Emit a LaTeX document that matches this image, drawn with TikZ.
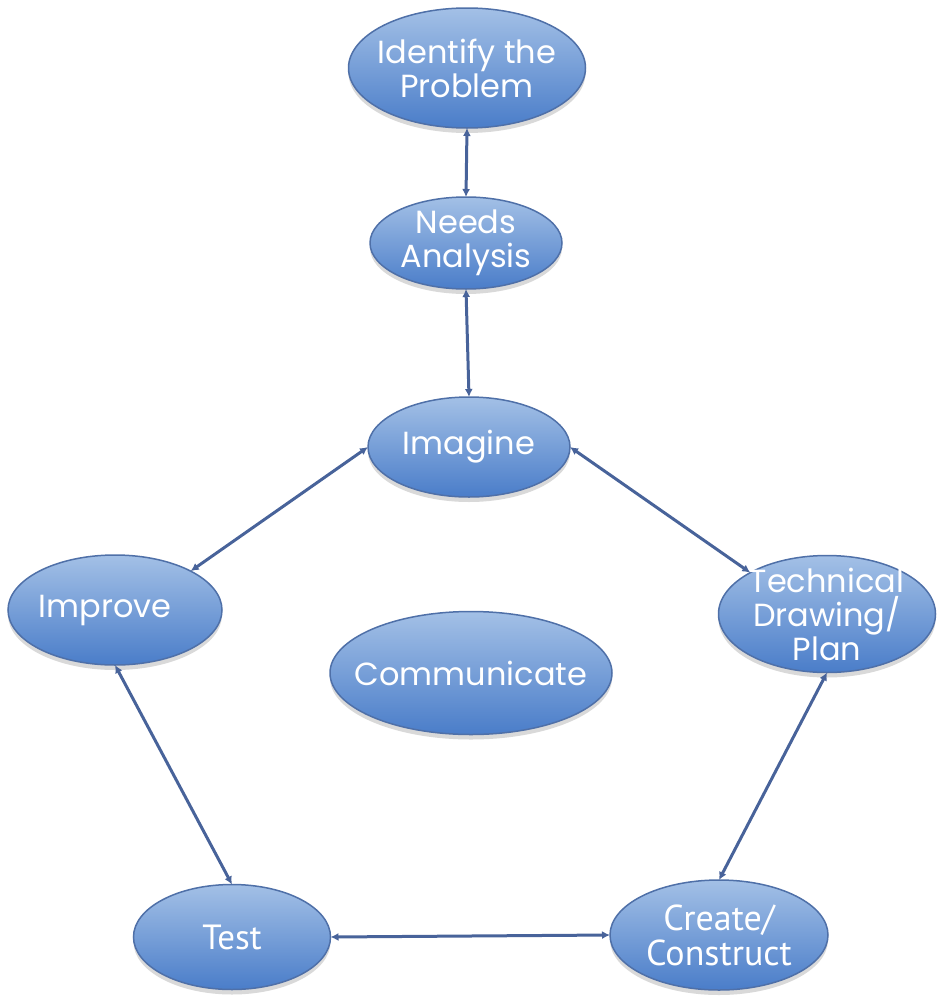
\documentclass[tikz,border=0pt]{standalone}
\usepackage{fontspec}
\setmainfont{Poppins}
\newfontfamily\narrowfont{PT Sans}
\usepackage{tkz-graph}
\usetikzlibrary{arrows.meta,shapes.geometric,shadows}
\definecolor{ovaltop}{HTML}{A3C0E6}
\definecolor{ovalbot}{HTML}{4A7DC9}
\definecolor{ovalrim}{HTML}{4F70A8}
\definecolor{linkblue}{HTML}{48639A}

\begin{document}
\begin{tikzpicture}[x=1pt,y=-1pt]
	\useasboundingbox (0,0) rectangle (940,1001);
	\tikzset{VertexStyle/.style = {shape=ellipse, draw=ovalrim, line width=1.5pt,
			top color=ovaltop, bottom color=ovalbot,
			drop shadow={shadow xshift=0pt, shadow yshift=-5pt, opacity=0.25, fill=black!60},
			text=white, font=\fontsize{32}{34}\selectfont, align=center, inner sep=-20pt}}
	\tikzset{EdgeStyle/.style = {draw=linkblue, line width=3pt,
			{Latex[length=8pt,width=8pt]}-{Latex[length=8pt,width=8pt]}}}
	\tikzset{LabelStyle/.style = {draw=none, fill=none, inner sep=0pt}}
	\begin{scope}[VertexStyle/.append style = {minimum width=237pt, minimum height=120pt}]
		\Vertex[x=467 ,y=68 ,L={Identify the\\Problem}]{IdP}
	\end{scope}
	\begin{scope}[VertexStyle/.append style = {minimum width=192pt, minimum height=92pt}]
		\Vertex[x=466 ,y=243 ,L={Needs\\Analysis}]{NdA}
	\end{scope}
	\begin{scope}[VertexStyle/.append style = {minimum width=202pt, minimum height=100pt}]
		\Vertex[x=469 ,y=447 ,L={Imagine}]{Img}
	\end{scope}
	\begin{scope}[VertexStyle/.append style = {minimum width=214pt, minimum height=110pt}]
		\Vertex[x=115 ,y=610 ,L={Improve\hspace*{20pt}}]{Imp}
	\end{scope}
	\begin{scope}[VertexStyle/.append style = {minimum width=217pt, minimum height=117pt}]
		\Vertex[x=827 ,y=614 ,L={Technical\\Drawing/\\Plan}]{TDP}
	\end{scope}
	\begin{scope}[VertexStyle/.append style = {minimum width=282pt, minimum height=123pt}]
		\Vertex[x=471 ,y=673 ,L={Communicate}]{Com}
	\end{scope}
	\begin{scope}[VertexStyle/.append style = {minimum width=197pt, minimum height=105pt,
			font=\narrowfont\fontsize{35}{35}\selectfont}]
		\Vertex[x=232 ,y=937 ,L={Test}]{Tst}
	\end{scope}
	\begin{scope}[VertexStyle/.append style = {minimum width=218pt, minimum height=110pt,
			font=\narrowfont\fontsize{36}{35}\selectfont}]
		\Vertex[x=719 ,y=935 ,L={Create/\\Construct}]{CrC}
	\end{scope}
	%	the cycle round Communicate
		\Edge(IdP.south)(NdA.north)
		\Edge(NdA.south)(Img.north)
		\Edge(Img.west)(Imp.north east)
		\Edge(Img.east)(TDP.north west)
		\Edge(Imp.south)(Tst.north)
		\Edge(TDP.south)(CrC.north)
		\Edge(Tst.east)(CrC.west)
\end{tikzpicture}
\end{document}
